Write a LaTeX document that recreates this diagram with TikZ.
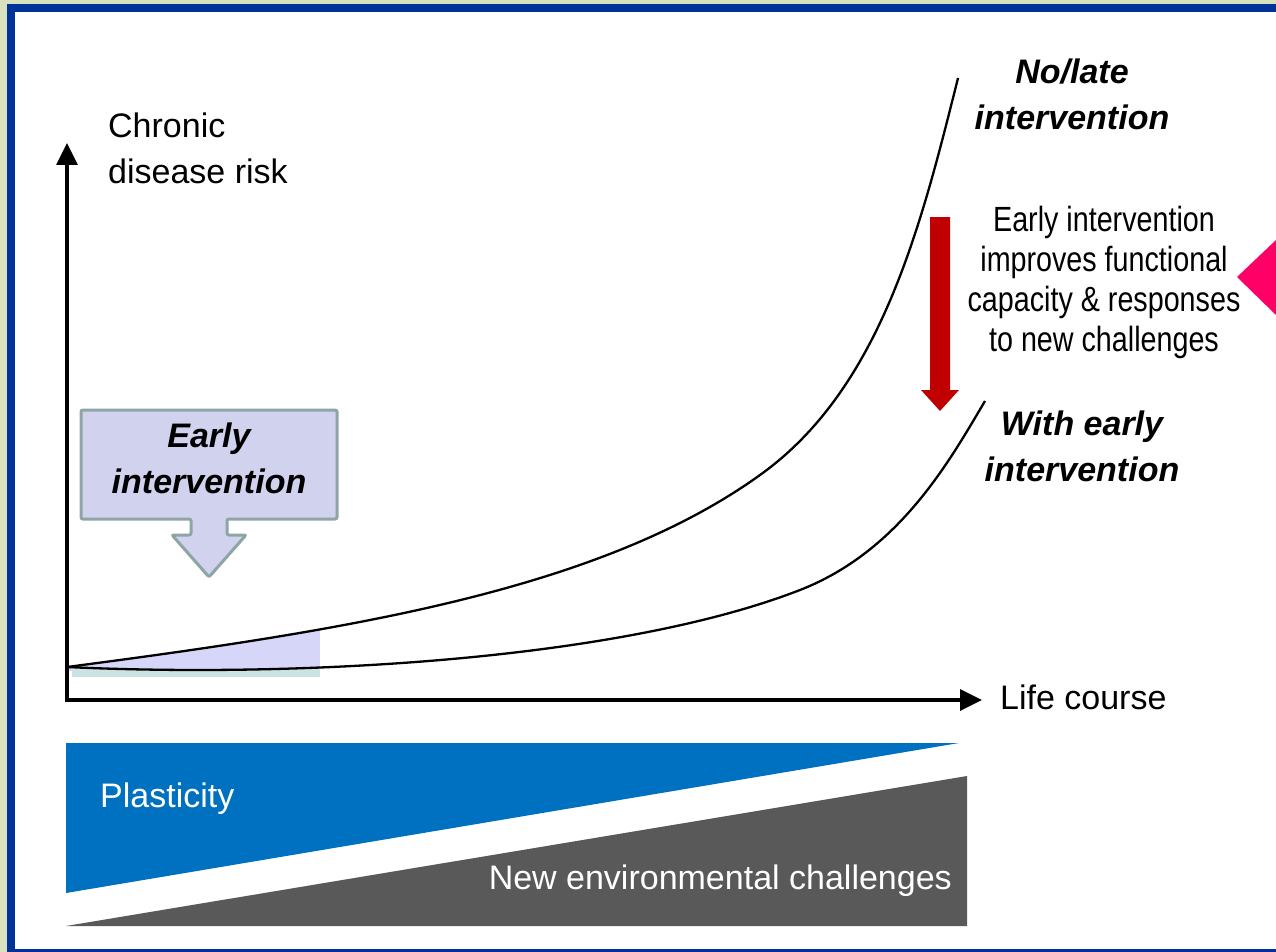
\documentclass[tikz,border=0pt]{standalone}
\usepackage{fontspec}
\setmainfont{Liberation Sans}
\newfontfamily\narrowfont{Liberation Sans}[FakeStretch=0.82]
\usetikzlibrary{arrows.meta}

\definecolor{frameblue}{HTML}{003399}
\definecolor{framegreen}{HTML}{D8E3BD}
\definecolor{plasblue}{HTML}{0070C0}
\definecolor{envgray}{HTML}{595959}
\definecolor{callfill}{HTML}{D0D2EE}
\definecolor{calldraw}{HTML}{8EA5A5}
\definecolor{zonefill}{HTML}{D6D6F8}
\definecolor{zoneedge}{HTML}{CCE3E3}
\definecolor{arrowred}{HTML}{C00000}
\definecolor{pointpink}{HTML}{FF0066}

\tikzset{
  axis/.style={line width=3.5pt, -{Triangle[length=22pt,width=21pt]}},
  riskcurve/.style={line width=2.3pt},
  plainlabel/.style={font=\fontsize{34}{46}\selectfont, align=left, inner sep=0pt},
  curvelabel/.style={font=\fontsize{34}{46}\selectfont\bfseries\itshape, align=center, inner sep=0pt},
  notelabel/.style={font=\narrowfont\fontsize{35}{40}\selectfont, align=center, inner sep=0pt},
  wedgelabel/.style={font=\fontsize{34}{40}\selectfont, text=white, inner sep=0pt},
}

\begin{document}
\begin{tikzpicture}[x=1pt, y=-1pt]
\useasboundingbox (0,0) rectangle (1276,952);

% frame
\fill[framegreen] (0,0) rectangle (1276,952);
\fill[frameblue] (7,4) rectangle (1276,952);
\fill[white] (15,12) rectangle (1276,948.5);

% shaded early zone under the upper curve
\begin{scope}
  \clip (67,667) .. controls (350,630) and (600,590) .. (760,475)
        .. controls (880,389) and (920,230) .. (958,78)
        -- (958,700) -- (67,700) -- cycle;
  \fill[zonefill] (67,600) rectangle (320,671);
\end{scope}
\fill[zoneedge] (72,669) rectangle (320,677);

% axes
\coordinate (O) at (67,700);
\coordinate (ytip) at (67,143);
\coordinate (xtip) at (982,700);
\draw[axis] ([yshift=-1.5pt]O) -- (ytip);
\draw[axis] ([xshift=-1.5pt]O) -- (xtip);

\node[plainlabel, anchor=west] (ylabel) at (108,148) {Chronic\\disease risk};
\node[plainlabel, anchor=west] (xlabel) at (1000,697) {Life course};

% risk curves: without and with early intervention
\draw[riskcurve] (67,667) .. controls (350,630) and (600,590) .. (760,475)
  .. controls (880,389) and (920,230) .. (958,78);
\draw[riskcurve] (67,667) .. controls (300,678) and (620,660) .. (800,590)
  .. controls (900,551) and (950,460) .. (985,401);

\node[curvelabel] (late) at (1072,94) {No/late\\intervention};
\node[curvelabel] (early) at (1082,446) {With early\\intervention};

% downward red arrow
\fill[arrowred] (930,217) -- (950,217) -- (950,390) -- (959,390) -- (940,411)
  -- (921,390) -- (930,390) -- cycle;

\node[notelabel] (note) at (1104,282) {Early intervention\\improves functional\\capacity \& responses\\to new challenges};

% pink pointer
\fill[pointpink] (1237,277) -- (1276,240) -- (1276,315) -- cycle;

% early intervention callout
\draw[fill=callfill, draw=calldraw, line width=3pt, rounded corners=2pt]
  (81,410) -- (337,410) -- (337,519) -- (227,519) -- (227,535) -- (246,535)
  -- (209,577) -- (172,535) -- (191,535) -- (191,519) -- (81,519) -- cycle;
\node[curvelabel] (callout) at (209,458) {Early\\intervention};

% plasticity and challenge wedges
\fill[plasblue] (66,743) -- (959,743) -- (66,893) -- cycle;
\fill[envgray] (66,926) -- (967,776) -- (967,926) -- cycle;
\node[wedgelabel, anchor=west] (plas) at (100,799) {Plasticity};
\node[wedgelabel, anchor=east] (env) at (952,881) {New environmental challenges};
\end{tikzpicture}
\end{document}
